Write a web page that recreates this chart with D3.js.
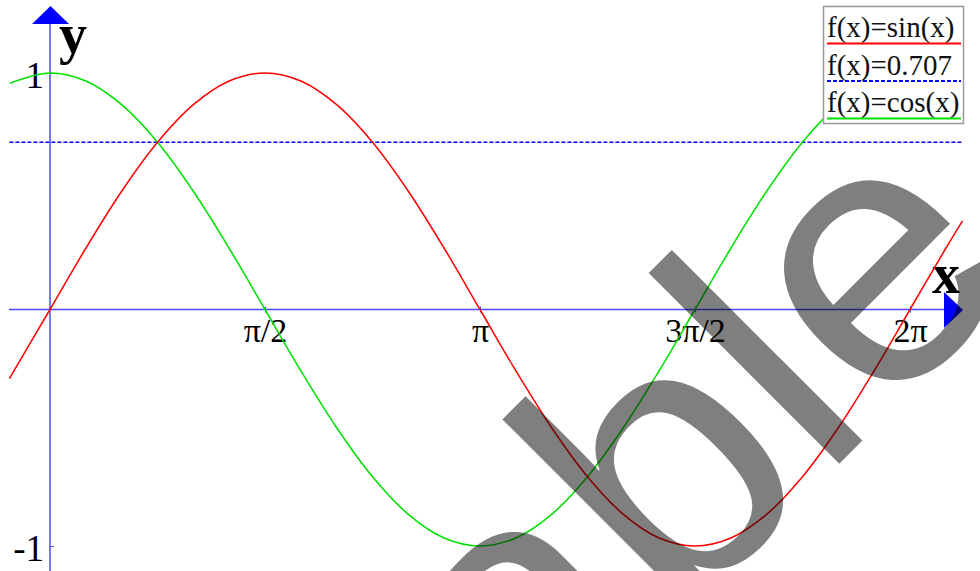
<!DOCTYPE html>
<html>
<head>
<meta charset="utf-8">
<script src="https://cdn.jsdelivr.net/npm/d3@7"></script>
<style>
  body { margin: 0; background: #fff; }
  svg { display: block; }
</style>
</head>
<body>
<svg id="chart" width="980" height="571"></svg>
<script>
// sample positions in degrees (0..360 = 0..2pi)
var angles = [-17, 0, 15, 30, 45, 60, 75, 90, 105, 120, 135, 150, 165, 180,
  195, 210, 225, 240, 255, 270, 285, 300, 315, 330, 345, 360, 375, 382];
var sinValues = [-0.292, 0, 0.259, 0.5, 0.707, 0.866, 0.966, 1, 0.966, 0.866, 0.707, 0.5, 0.259, 0,
  -0.259, -0.5, -0.707, -0.866, -0.966, -1, -0.966, -0.866, -0.707, -0.5, -0.259, 0, 0.259, 0.375];
var cosValues = [0.956, 1, 0.966, 0.866, 0.707, 0.5, 0.259, 0, -0.259, -0.5, -0.707, -0.866, -0.966, -1,
  -0.966, -0.866, -0.707, -0.5, -0.259, 0, 0.259, 0.5, 0.707, 0.866, 0.966, 1, 0.966, 0.927];
var constAngles = [-17, 382];
var constValues = [0.707, 0.707];

var xTicks = [90, 180, 270, 360];
var xTickLabels = ['π/2', 'π', '3π/2', '2π'];
var yTicks = [1, -1];
var yTickLabels = ['1', '-1'];

var legendLabels = ['f(x)=sin(x)', 'f(x)=0.707', 'f(x)=cos(x)'];
var legendColors = ['#ff0000', '#0000ff', '#00e000'];

var svg = d3.select('#chart');
var x = d3.scaleLinear().domain([0, 360]).range([50, 910]);
var y = d3.scaleLinear().domain([-1, 1]).range([546, 73]);
var serif = '"Liberation Serif", "Times New Roman", serif';
var axisColor = '#4a4aff';

// axes
var xAxis = svg.append('g')
  .attr('transform', 'translate(0,' + y(0) + ')')
  .call(d3.axisBottom(x).tickValues(xTicks)
    .tickFormat(function(d, i) { return xTickLabels[i]; })
    .tickSizeInner(3).tickSizeOuter(0));
xAxis.select('.domain').remove();
xAxis.append('line')
  .attr('x1', 9).attr('x2', 946)
  .attr('stroke', axisColor).attr('stroke-width', 1.5);
xAxis.selectAll('.tick line').attr('y1', -3).attr('stroke', axisColor);
xAxis.selectAll('.tick text')
  .attr('y', 32).attr('dy', 0)
  .attr('fill', '#000')
  .style('font-family', serif).style('font-size', '34px');

var yAxis = svg.append('g')
  .attr('transform', 'translate(' + x(0) + ',0)')
  .call(d3.axisLeft(y).tickValues(yTicks)
    .tickFormat(function(d, i) { return yTickLabels[i]; })
    .tickSizeInner(3).tickSizeOuter(0));
yAxis.select('.domain').remove();
yAxis.append('line')
  .attr('y1', 22).attr('y2', 571)
  .attr('stroke', axisColor).attr('stroke-width', 1.5);
yAxis.selectAll('.tick line').attr('x2', 4).attr('stroke', axisColor);
yAxis.selectAll('.tick text')
  .attr('x', -6).attr('dy', '0.38em')
  .attr('fill', '#000')
  .style('font-family', serif).style('font-size', '37px');

// arrow heads
svg.append('path')
  .attr('d', 'M32,24 L69,24 L50.5,6 Z')
  .attr('fill', '#0000ff');
svg.append('path')
  .attr('d', 'M944,292 L944,328 L963,310 Z')
  .attr('fill', '#0000ff');

svg.append('text')
  .attr('x', 59).attr('y', 53)
  .style('font-family', serif).style('font-size', '56px').style('font-weight', 'bold')
  .text('y');
svg.append('text')
  .attr('x', 946).attr('y', 293).attr('text-anchor', 'middle')
  .style('font-family', serif).style('font-size', '56px').style('font-weight', 'bold')
  .text('x');

// curves
var line = d3.line()
  .x(function(d) { return x(d[0]); })
  .y(function(d) { return y(d[1]); })
  .curve(d3.curveCatmullRom);

svg.append('path')
  .datum(d3.zip(constAngles, constValues))
  .attr('d', line)
  .attr('fill', 'none')
  .attr('stroke', '#0000ff')
  .attr('stroke-width', 1.5)
  .attr('stroke-dasharray', '4,2');

svg.append('path')
  .datum(d3.zip(angles, cosValues))
  .attr('d', line)
  .attr('fill', 'none')
  .attr('stroke', '#00e000')
  .attr('stroke-width', 1.5);

svg.append('path')
  .datum(d3.zip(angles, sinValues))
  .attr('d', line)
  .attr('fill', 'none')
  .attr('stroke', '#ff0000')
  .attr('stroke-width', 1.5);

// legend
var legend = svg.append('g');
legend.append('rect')
  .attr('x', 823.5).attr('y', 6.5)
  .attr('width', 140).attr('height', 117)
  .attr('fill', '#fff')
  .attr('stroke', '#999').attr('stroke-width', 1.5);
var rows = legend.selectAll('g.row')
  .data(legendLabels)
  .enter().append('g')
  .attr('class', 'row')
  .attr('transform', function(d, i) { return 'translate(0,' + (i * 37.5) + ')'; });
rows.append('text')
  .attr('x', 827).attr('y', 37)
  .style('font-family', serif).style('font-size', '29px')
  .attr('fill', '#111')
  .text(function(d) { return d; });
rows.append('line')
  .attr('x1', 827).attr('x2', 961)
  .attr('y1', 43.5).attr('y2', 43.5)
  .attr('stroke', function(d, i) { return legendColors[i]; })
  .attr('stroke-width', 2)
  .attr('stroke-dasharray', function(d, i) { return i === 1 ? '4,2' : null; });

// watermark
svg.append('text')
  .attr('transform', 'translate(529,774) rotate(-45)')
  .style('font-family', '"Liberation Sans", Arial, sans-serif')
  .style('font-size', '372px')
  .attr('fill', '#000')
  .attr('fill-opacity', 0.5)
  .text('able');
</script>
</body>
</html>
